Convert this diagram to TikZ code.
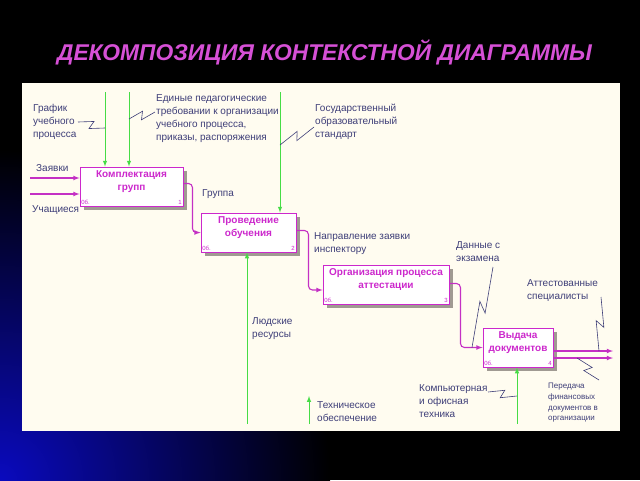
\documentclass[tikz,border=0pt]{standalone}
\usepackage{fontspec}
\setmainfont{Liberation Sans}
\usetikzlibrary{calc,positioning,shadows,arrows}
\definecolor{titlepink}{RGB}{214,80,214}
\definecolor{panelbg}{RGB}{255,252,240}
\definecolor{boxpink}{RGB}{204,40,204}
\definecolor{flowpink}{RGB}{196,48,196}
\definecolor{ctrlgreen}{RGB}{70,220,70}
\definecolor{labelblue}{RGB}{62,62,120}
\definecolor{shadowgray}{RGB}{160,154,146}
\definecolor{slideblue}{RGB}{10,10,190}
\tikzstyle{procbox} = [rectangle, draw=boxpink, fill=white, line width=0.9pt, inner sep=0pt, minimum height=39pt, drop shadow={shadow xshift=4pt, shadow yshift=-4pt, opacity=1, fill=shadowgray}]
\tikzstyle{boxtext} = [inner sep=0pt, align=center, text=boxpink, font=\bfseries\fontsize{10}{12.5}\selectfont]
\tikzstyle{boxid} = [inner sep=1.5pt, text=boxpink, font=\fontsize{6}{7}\selectfont]
\tikzstyle{lbl} = [anchor=north west, inner sep=0pt, align=left, text=labelblue, font=\fontsize{10}{13}\selectfont]
\tikzstyle{smalllbl} = [lbl, font=\fontsize{8}{10.7}\selectfont]
\tikzstyle{flow} = [->, >=latex, draw=flowpink, line width=1.1pt, rounded corners=4pt]
\tikzstyle{ctrl} = [->, >=latex, draw=ctrlgreen, line width=1pt]
\tikzstyle{zigline} = [draw=labelblue, line width=0.6pt]
\newcommand{\zig}[2]{\draw [zigline] (#1) -- ($(#1)!0.56!(#2)!4pt!90:(#2)$) -- ($(#1)!0.44!(#2)!4pt!-90:(#2)$) -- (#2);}

\begin{document}
\begin{tikzpicture}[x=1pt,y=-1pt]
\useasboundingbox (0,0) rectangle (640,480);
\fill [black] (0,0) rectangle (640,480);
\begin{scope}
\clip (0,0) rectangle (640,480);
\shade [inner color=slideblue, outer color=black] (0,480) circle (330pt);
\end{scope}

\node (title) [anchor=base, text=titlepink, font=\bfseries\itshape\fontsize{22.8}{27}\selectfont] at (324.5,60) {ДЕКОМПОЗИЦИЯ КОНТЕКСТНОЙ ДИАГРАММЫ};

\fill [panelbg] (22,83) rectangle (620,431);

\node (b1) [procbox, minimum width=103pt] at (131.5,186.5) {};
\node (b2) [procbox, minimum width=95pt] at (248.5,232.5) {};
\node (b3) [procbox, minimum width=126pt] at (386,284.5) {};
\node (b4) [procbox, minimum width=70pt] at (518,347.5) {};

\node (t1) [boxtext, below=4pt of b1.north] {Комплектация\\групп};
\node (t2) [boxtext, below=4pt of b2.north] {Проведение\\обучения};
\node (t3) [boxtext, below=4pt of b3.north] {Организация процесса\\аттестации};
\node (t4) [boxtext, below=4pt of b4.north] {Выдача\\документов};

\node (id1) [boxid, anchor=south west] at (b1.south west) {0б.};
\node (id2) [boxid, anchor=south west] at (b2.south west) {0б.};
\node (id3) [boxid, anchor=south west] at (b3.south west) {0б.};
\node (id4) [boxid, anchor=south west] at (b4.south west) {0б.};
\node (n1) [boxid, anchor=south east] at (b1.south east) {1};
\node (n2) [boxid, anchor=south east] at (b2.south east) {2};
\node (n3) [boxid, anchor=south east] at (b3.south east) {3};
\node (n4) [boxid, anchor=south east] at (b4.south east) {4};

\coordinate (in1) at (30,178);
\coordinate (in2) at (30,194);
\coordinate (c1) at (105,92);
\coordinate (c2) at (129,92);
\coordinate (c3) at (280,92);
\coordinate (m2) at (247,424);
\coordinate (m4) at (517,424);
\coordinate (m0) at (309,424);
\coordinate (m0top) at (309,396);
\coordinate (o1) at (613,351);
\coordinate (o2) at (613,358);

\draw [flow] (in1) -- (in1 -| b1.west);
\draw [flow] (in2) -- (in2 -| b1.west);
\draw [ctrl] (c1) -- (c1 |- b1.north);
\draw [ctrl] (c2) -- (c2 |- b1.north);
\draw [ctrl] (c3) -- (c3 |- b2.north);
\draw [ctrl] (m2) -- (m2 |- b2.south);
\draw [ctrl] (m4) -- (m4 |- b4.south);
\draw [ctrl] (m0) -- (m0top);
\draw [flow] ([yshift=3pt]b1.east) -- ++(9,0) |- (b2.west);
\draw [flow] ([yshift=2pt]b2.east) -- ++(12,0) |- ([yshift=-5.5pt]b3.west);
\draw [flow] ([yshift=1pt]b3.east) -- ++(11,0) |- (b4.west);
\draw [flow] ([yshift=-3.5pt]b4.east) -- (o1);
\draw [flow] ([yshift=-10.5pt]b4.east) -- (o2);

\node (lzay) [lbl] at (36,164) {Заявки};
\node (luch) [lbl] at (32,205) {Учащиеся};
\node (lgraf) [lbl] at (33,104) {График\\учебного\\процесса};
\node (led) [lbl] at (156,94) {Единые педагогические\\требовании к организации\\учебного процесса,\\приказы, распоряжения};
\node (lgos) [lbl] at (315,104) {Государственный\\образовательный\\стандарт};
\node (lgr) [lbl] at (202,189) {Группа};
\node (lnapr) [lbl] at (314,232) {Направление заявки\\инспектору};
\node (ldan) [lbl] at (456,241) {Данные с\\экзамена};
\node (latt) [lbl] at (527,279) {Аттестованные\\специалисты};
\node (llyud) [lbl] at (252,317) {Людские\\ресурсы};
\node (ltech) [lbl] at (317,401) {Техническое\\обеспечение};
\node (lcomp) [lbl] at (419,384) {Компьютерная\\и офисная\\техника};
\node (lper) [smalllbl] at (548,383) {Передача\\финансовых\\документов в\\организации};

\coordinate (z1a) at (78,122);
\coordinate (z1b) at (105,128);
\coordinate (z2a) at (129,119);
\coordinate (z2b) at (155,112);
\coordinate (z3a) at (280,145);
\coordinate (z3b) at (314,127);
\coordinate (z4a) at (493,267);
\coordinate (z4b) at (472,347.5);
\coordinate (z5a) at (601,297);
\coordinate (z5b) at (599,351);
\coordinate (z6a) at (577,358);
\coordinate (z6b) at (599,380);
\coordinate (z7a) at (488,392);
\coordinate (z7b) at (517,396);
\zig{z1a}{z1b}
\zig{z2a}{z2b}
\zig{z3a}{z3b}
\zig{z4a}{z4b}
\zig{z5a}{z5b}
\zig{z6a}{z6b}
\zig{z7a}{z7b}
\end{tikzpicture}
\end{document}
